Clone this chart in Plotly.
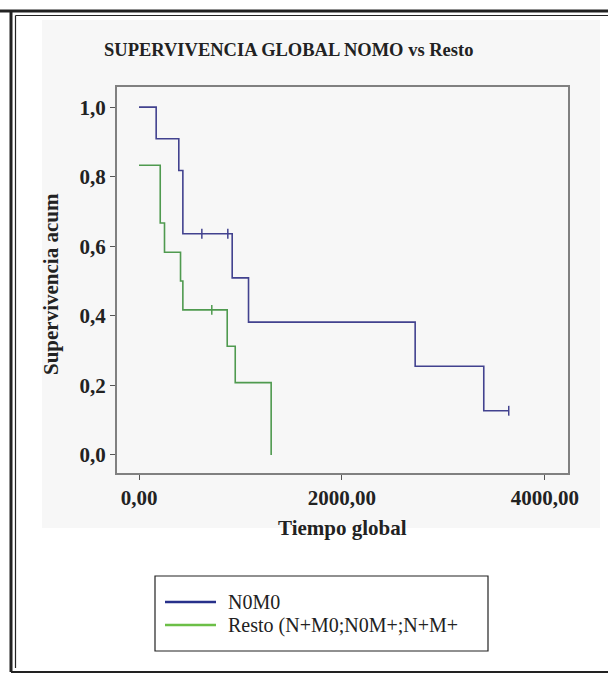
import plotly.graph_objects as go

# ---- data ----
title_text = "SUPERVIVENCIA GLOBAL NOMO vs Resto"
x_title = "Tiempo global"
y_title = "Supervivencia acum"
series_names = ["N0M0", "Resto (N+M0;N0M+;N+M+"]

n0m0_time = [0, 169, 392, 432, 918, 1079, 2721, 3397, 3643]
n0m0_surv = [1.0, 0.909, 0.818, 0.636, 0.509, 0.382, 0.255, 0.127, 0.127]
n0m0_cens_time = [619, 875, 3643]
n0m0_cens_surv = [0.636, 0.636, 0.127]

resto_time = [0, 209, 251, 409, 432, 869, 948, 1302]
resto_surv = [0.833, 0.667, 0.583, 0.5, 0.417, 0.3125, 0.208, 0.0]
resto_cens_time = [717]
resto_cens_surv = [0.417]

x_tickvals = [0, 2000, 4000]
x_ticktext = ["0,00", "2000,00", "4000,00"]
y_tickvals = [0.0, 0.2, 0.4, 0.6, 0.8, 1.0]
y_ticktext = ["0,0", "0,2", "0,4", "0,6", "0,8", "1,0"]

# ---- styling ----
W, H = 608, 675
L, R, T, B = 117, 40, 87, 202
PW, PH = W - L - R, H - T - B
SERIF = "Liberation Serif, Times New Roman, serif"
curve_colors = ["#42428f", "#4f9a4f"]
legend_colors = ["#27308a", "#6cbf47"]
TXT = "#222222"


def px(xp):
    return (xp - L) / PW


def py(yp):
    return (H - B - yp) / PH


fig = go.Figure()
fig.add_trace(go.Scatter(x=n0m0_time, y=n0m0_surv, mode="lines",
                         line=dict(shape="hv", color=curve_colors[0], width=1.6),
                         name=series_names[0], showlegend=False))
fig.add_trace(go.Scatter(x=n0m0_cens_time, y=n0m0_cens_surv, mode="markers",
                         marker=dict(symbol="line-ns-open", size=7, color=curve_colors[0],
                                     line=dict(color=curve_colors[0], width=1.5)),
                         showlegend=False, hoverinfo="skip"))
fig.add_trace(go.Scatter(x=resto_time, y=resto_surv, mode="lines",
                         line=dict(shape="hv", color=curve_colors[1], width=1.6),
                         name=series_names[1], showlegend=False))
fig.add_trace(go.Scatter(x=resto_cens_time, y=resto_cens_surv, mode="markers",
                         marker=dict(symbol="line-ns-open", size=7, color=curve_colors[1],
                                     line=dict(color=curve_colors[1], width=1.5)),
                         showlegend=False, hoverinfo="skip"))

shapes = []
# light chart region
shapes.append(dict(type="rect", xref="paper", yref="paper", x0=px(42), x1=px(600), y0=py(20), y1=py(528),
                   fillcolor="#f7f7f7", line=dict(width=0), layer="below"))
# outer frame
for (x0, y0, x1, y1, w) in [(0, 11, 608, 11, 3), (11, 11, 11, 672, 3), (15.5, 15.5, 608, 15.5, 1.2),
                            (15.5, 15.5, 15.5, 668, 1.2), (11, 672, 608, 672, 2)]:
    shapes.append(dict(type="line", xref="paper", yref="paper", x0=px(x0), x1=px(x1), y0=py(y0), y1=py(y1),
                       line=dict(color=TXT, width=w)))
# legend box
shapes.append(dict(type="rect", xref="paper", yref="paper", x0=px(155), x1=px(488), y0=py(576), y1=py(651),
                   fillcolor="white", line=dict(color=TXT, width=1.2)))
annotations = []
for name, col, yy in zip(series_names, legend_colors, [602, 625]):
    shapes.append(dict(type="line", xref="paper", yref="paper", x0=px(165), x1=px(216), y0=py(yy), y1=py(yy),
                       line=dict(color=col, width=2.5)))
    annotations.append(dict(text=name, xref="paper", yref="paper", x=px(226), y=py(yy), xanchor="left",
                            yanchor="middle", showarrow=False, font=dict(family=SERIF, size=20, color=TXT)))

annotations.append(dict(text="<b>" + title_text + "</b>", xref="paper", yref="paper", x=px(288), y=py(50),
                        xanchor="center", yanchor="middle", showarrow=False,
                        font=dict(family=SERIF, size=18.5, color=TXT)))
annotations.append(dict(text="<b>" + x_title + "</b>", xref="paper", yref="paper", x=px(342), y=py(528),
                        xanchor="center", yanchor="middle", showarrow=False,
                        font=dict(family=SERIF, size=21, color=TXT)))
annotations.append(dict(text="<b>" + y_title + "</b>", xref="paper", yref="paper", x=px(51), y=py(284),
                        xanchor="center", yanchor="middle", showarrow=False, textangle=-90,
                        font=dict(family=SERIF, size=21, color=TXT)))

axis_common = dict(showgrid=False, zeroline=False, showline=True, linecolor="#808080", linewidth=2, mirror=True,
                   ticks="outside", ticklen=5, tickcolor="#555555", tickwidth=1.2,
                   tickfont=dict(family=SERIF, size=21, color=TXT))

fig.update_layout(
    width=W, height=H, margin=dict(l=L, r=R, t=T, b=B, autoexpand=False),
    paper_bgcolor="white", plot_bgcolor="#ebebeb",
    xaxis=dict(range=[-217, 4227], tickvals=x_tickvals,
               ticktext=["<b>%s</b>" % t for t in x_ticktext], **axis_common),
    yaxis=dict(range=[-0.052, 1.058], tickvals=y_tickvals,
               ticktext=["<b>%s</b>" % t for t in y_ticktext], **axis_common),
    shapes=shapes, annotations=annotations, showlegend=False,
)

fig.write_html("out.html", config={"displayModeBar": False},
               post_script="document.body.style.margin='0';document.body.style.overflow='hidden';")
